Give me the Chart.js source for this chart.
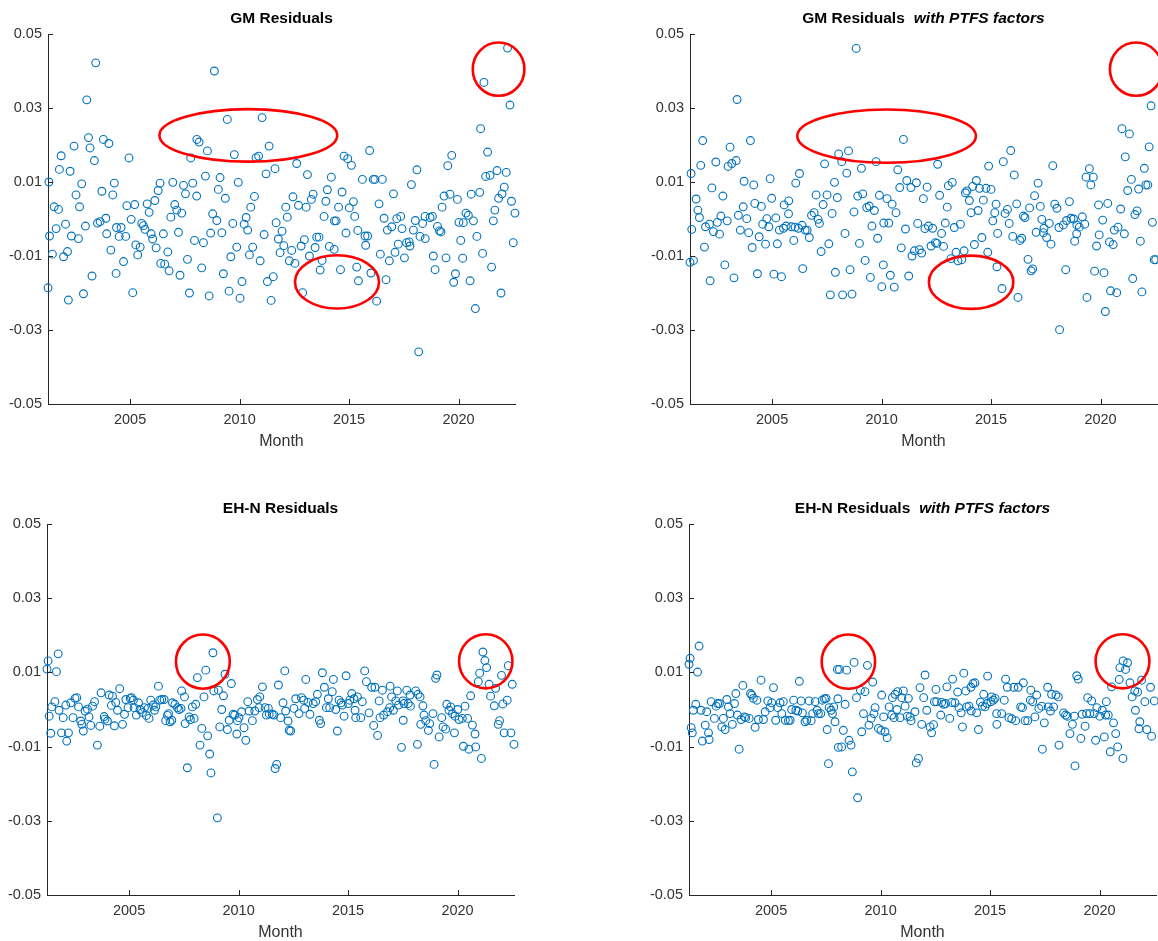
<!DOCTYPE html>
<html>
<head>
<meta charset="utf-8">
<title>Residuals</title>
<script src="https://cdn.jsdelivr.net/npm/chart.js@4.4.1/dist/chart.umd.min.js"></script>
<style>
  html, body { margin: 0; padding: 0; background: #ffffff; }
  #wrap { position: relative; width: 1158px; height: 941px; overflow: hidden; }
  #wrap canvas { position: absolute; left: 0; top: 0; }
</style>
</head>
<body>
<div id="wrap">
  <canvas id="gm" width="1180" height="941"></canvas>
  <canvas id="gmPtfs" width="1180" height="941"></canvas>
  <canvas id="ehn" width="1180" height="941"></canvas>
  <canvas id="ehnPtfs" width="1180" height="941"></canvas>
</div>
<script>
// Monthly sample: April 2001 to August 2022, in decimal years
const firstMonth = 2001.25;
const lastMonth = 2022.58;

const yearTicks = [2005, 2010, 2015, 2020];
const residualTicks = [-0.05, -0.03, -0.01, 0.01, 0.03, 0.05];
const residualMin = -0.05;
const residualMax = 0.05;

// [month, residual]
const gmResiduals = [
  [2001.25,-0.0186],[2001.29,0.0100],[2001.32,-0.0046],[2001.45,-0.0095],[2001.53,0.0033],[2001.62,-0.0026],[2001.73,0.0026],[2001.77,0.0134],[2001.85,0.0171],[2001.96,-0.0102],
  [2002.05,-0.0014],[2002.14,-0.0088],[2002.18,-0.0219],[2002.26,0.0129],[2002.32,-0.0046],[2002.44,0.0197],[2002.53,0.0065],[2002.64,-0.0053],[2002.69,0.0033],[2002.79,0.0095],
  [2002.87,-0.0202],[2002.96,-0.0019],[2003.02,0.0322],[2003.10,0.0220],[2003.17,0.0192],[2003.26,-0.0154],[2003.37,0.0158],[2003.43,0.0422],[2003.51,-0.0011],[2003.63,-0.0007],
  [2003.71,0.0075],[2003.78,0.0215],[2003.89,0.0002],[2003.93,-0.0040],[2004.03,0.0204],[2004.12,-0.0084],[2004.21,0.0065],[2004.28,0.0097],[2004.36,-0.0147],[2004.38,-0.0023],
  [2004.50,-0.0047],[2004.59,-0.0023],[2004.70,-0.0115],[2004.80,-0.0047],[2004.85,0.0036],[2004.95,0.0165],[2005.05,-0.0001],[2005.12,-0.0199],[2005.21,0.0039],[2005.26,-0.0070],
  [2005.35,-0.0097],[2005.46,-0.0076],[2005.53,-0.0012],[2005.61,-0.0018],[2005.68,-0.0028],[2005.78,0.0041],[2005.87,0.0018],[2005.96,-0.0040],[2006.03,-0.0054],[2006.13,0.0050],
  [2006.19,-0.0078],[2006.28,0.0077],[2006.37,0.0097],[2006.40,-0.0120],[2006.52,-0.0040],[2006.58,-0.0122],[2006.72,-0.0089],[2006.78,-0.0140],[2006.86,0.0005],[2006.95,0.0099],
  [2007.04,0.0039],[2007.13,0.0024],[2007.21,-0.0036],[2007.28,-0.0152],[2007.36,0.0016],[2007.44,0.0091],[2007.53,0.0068],[2007.62,-0.0109],[2007.71,-0.0200],[2007.77,0.0165],
  [2007.86,0.0097],[2007.94,-0.0058],[2008.04,0.0062],[2008.05,0.0215],[2008.15,0.0208],
  [2008.27,-0.0132],[2008.35,-0.0064],[2008.44,0.0116],[2008.53,0.0184],[2008.61,-0.0208],[2008.68,-0.0038],[2008.77,0.0014],[2008.85,0.0400],[2008.96,-0.0004],[2009.03,0.0080],
  [2009.11,0.0112],[2009.19,-0.0037],[2009.26,-0.0148],[2009.35,0.0056],[2009.44,0.0269],[2009.52,-0.0195],[2009.60,-0.0102],[2009.69,-0.0012],[2009.76,0.0174],[2009.87,-0.0076],
  [2009.94,0.0099],[2010.02,-0.0214],[2010.11,-0.0169],[2010.21,-0.0014],[2010.30,0.0004],[2010.37,-0.0030],[2010.45,-0.0097],[2010.51,0.0032],[2010.60,-0.0076],[2010.68,0.0061],
  [2010.75,0.0166],[2010.87,0.0170],[2010.94,-0.0113],[2011.03,0.0274],[2011.12,-0.0042],[2011.21,0.0122],[2011.27,-0.0169],[2011.35,0.0197],[2011.44,-0.0220],[2011.54,-0.0156],
  [2011.62,0.0136],[2011.67,-0.0010],[2011.77,-0.0054],[2011.85,-0.0091],[2011.94,-0.0033],[2012.02,-0.0072],[2012.11,0.0032],[2012.18,0.0005],[2012.27,-0.0113],[2012.38,-0.0085],
  [2012.44,0.0060],[2012.53,-0.0120],[2012.61,0.0150],[2012.69,0.0037],[2012.81,-0.0073],[2012.88,-0.0199],[2012.96,-0.0056],[2013.04,0.0032],[2013.10,0.0120],[2013.19,-0.0100],
  [2013.28,0.0053],[2013.36,0.0067],[2013.45,-0.0077],[2013.52,-0.0049],[2013.63,-0.0049],[2013.68,-0.0138],[2013.77,-0.0112],[2013.86,0.0007],[2013.94,0.0048],[2014.01,0.0079],
  [2014.10,-0.0074],[2014.19,0.0113],[2014.32,-0.0082],[2014.33,-0.0005],[2014.41,-0.0005],[2014.52,0.0032],[2014.61,-0.0137],[2014.68,0.0073],[2014.77,0.0170],[2014.86,-0.0038],
  [2014.94,0.0163],[2015.01,0.0030],[2015.11,0.0145],[2015.20,0.0047],[2015.26,0.0007],[2015.35,-0.0130],[2015.40,-0.0031],[2015.43,-0.0167],
  [2015.61,0.0107],[2015.73,-0.0046],[2015.76,-0.0071],[2015.85,-0.0046],[2015.94,0.0185],[2016.00,-0.0146],[2016.11,0.0107],[2016.18,0.0107],[2016.26,-0.0222],[2016.37,0.0041],
  [2016.43,-0.0095],[2016.52,0.0107],[2016.60,0.0002],[2016.69,-0.0164],[2016.75,-0.0030],[2016.84,-0.0113],[2016.95,-0.0021],[2017.03,0.0068],[2017.10,-0.0090],[2017.18,0.0001],
  [2017.25,-0.0068],[2017.36,0.0007],[2017.42,-0.0026],[2017.53,-0.0105],[2017.63,-0.0064],[2017.75,-0.0062],[2017.78,-0.0073],[2017.85,0.0093],[2017.94,-0.0030],[2018.03,-0.0004],
  [2018.10,0.0133],[2018.18,-0.0359],[2018.24,-0.0047],[2018.36,-0.0012],[2018.47,0.0007],[2018.48,-0.0053],[2018.70,0.0004],[2018.81,0.0007],[2018.85,-0.0100],[2018.93,-0.0137],
  [2019.04,-0.0020],[2019.13,-0.0032],[2019.20,-0.0035],[2019.25,0.0032],[2019.34,0.0062],[2019.43,-0.0105],[2019.51,0.0144],[2019.61,0.0067],[2019.69,0.0172],[2019.78,-0.0171],
  [2019.86,-0.0148],[2019.95,0.0053],[2020.02,-0.0009],[2020.10,-0.0058],[2020.19,-0.0106],[2020.22,-0.0010],[2020.34,0.0016],[2020.45,0.0010],[2020.53,-0.0167],[2020.58,0.0067],
  [2020.68,-0.0005],[2020.77,-0.0242],[2020.84,-0.0047],[2020.97,0.0072],[2021.01,0.0244],[2021.10,-0.0093],[2021.16,0.0369],[2021.24,0.0115],[2021.33,0.0181],[2021.44,0.0118],
  [2021.51,-0.0130],[2021.59,-0.0005],[2021.66,0.0024],[2021.76,0.0131],[2021.83,0.0056],[2021.94,-0.0200],[2021.99,0.0068],[2022.09,0.0086],[2022.18,0.0126],[2022.24,0.0462],
  [2022.35,0.0308],[2022.42,0.0048],[2022.50,-0.0064],[2022.58,0.0016]
];

const gmPtfsResiduals = [
  [2001.25,-0.0117],[2001.30,0.0123],[2001.33,-0.0028],[2001.41,-0.0112],[2001.53,0.0054],[2001.61,0.0024],[2001.68,0.0004],[2001.74,0.0145],[2001.83,0.0212],[2001.91,-0.0076],
  [2001.96,-0.0021],[2002.14,-0.0014],[2002.17,-0.0167],[2002.25,0.0084],[2002.32,-0.0034],[2002.43,0.0154],[2002.50,-0.0009],[2002.60,-0.0041],[2002.66,0.0008],[2002.75,0.0062],
  [2002.84,-0.0124],[2002.95,-0.0005],[2002.99,0.0142],[2003.08,0.0194],[2003.16,0.0150],[2003.26,-0.0159],[2003.36,0.0158],[2003.40,0.0323],[2003.46,0.0010],[2003.55,-0.0030],
  [2003.68,0.0033],[2003.72,0.0102],[2003.84,0.0001],[2003.93,-0.0037],[2004.01,0.0212],[2004.09,-0.0077],[2004.16,0.0092],[2004.21,0.0042],[2004.33,-0.0148],[2004.41,-0.0048],
  [2004.51,0.0034],[2004.57,-0.0014],[2004.70,-0.0068],[2004.76,0.0001],[2004.85,-0.0021],[2004.91,0.0109],[2004.98,0.0056],[2005.08,-0.0149],[2005.17,0.0003],[2005.24,-0.0067],
  [2005.33,-0.0030],[2005.43,-0.0156],[2005.52,-0.0025],[2005.55,0.0038],[2005.64,-0.0019],[2005.75,0.0014],[2005.76,0.0049],[2005.88,-0.0021],[2005.99,-0.0058],[2006.05,-0.0022],
  [2006.08,0.0097],[2006.20,-0.0025],[2006.25,0.0123],[2006.37,-0.0017],[2006.40,-0.0134],[2006.51,-0.0030],[2006.60,-0.0030],[2006.70,-0.0050],[2006.80,0.0010],[2006.92,0.0017],
  [2007.01,0.0065],[2007.10,-0.0001],[2007.16,-0.0012],[2007.24,-0.0088],[2007.33,0.0039],[2007.40,0.0149],[2007.51,0.0065],[2007.59,-0.0067],[2007.66,-0.0205],[2007.74,0.0015],
  [2007.85,0.0099],[2007.89,-0.0144],[2007.98,0.0058],[2008.04,0.0176],
  [2008.18,0.0155],[2008.22,-0.0205],[2008.33,-0.0039],[2008.41,0.0124],[2008.49,0.0184],[2008.56,-0.0137],[2008.65,-0.0203],[2008.74,0.0019],[2008.84,0.0461],[2008.91,0.0062],
  [2008.99,-0.0066],[2009.08,0.0137],[2009.14,0.0068],[2009.25,-0.0112],[2009.32,0.0031],[2009.44,0.0035],[2009.49,-0.0158],[2009.56,-0.0019],[2009.67,0.0023],[2009.75,0.0155],
  [2009.82,-0.0052],[2009.90,0.0064],[2010.01,-0.0183],[2010.08,-0.0124],[2010.10,-0.0011],[2010.25,0.0055],[2010.33,-0.0011],[2010.40,-0.0152],[2010.48,0.0040],[2010.58,-0.0184],
  [2010.66,0.0017],[2010.74,0.0133],[2010.83,0.0085],[2010.90,-0.0078],[2011.00,0.0215],[2011.09,-0.0027],[2011.15,0.0104],[2011.24,-0.0154],[2011.34,0.0085],[2011.39,-0.0100],
  [2011.50,-0.0086],[2011.59,0.0098],[2011.65,-0.0012],[2011.73,-0.0083],[2011.83,-0.0092],[2011.91,0.0055],[2011.98,-0.0026],[2012.08,0.0086],[2012.14,-0.0019],[2012.26,-0.0073],
  [2012.33,-0.0025],[2012.46,-0.0064],[2012.53,-0.0066],[2012.56,0.0148],[2012.65,0.0064],[2012.74,-0.0039],[2012.83,-0.0074],[2012.91,-0.0011],[2013.00,0.0032],[2013.05,0.0090],
  [2013.17,-0.0107],[2013.23,0.0099],[2013.32,-0.0023],[2013.40,-0.0090],[2013.49,-0.0113],[2013.60,-0.0014],[2013.66,-0.0110],[2013.77,-0.0086],[2013.83,0.0071],[2013.90,0.0076],
  [2014.01,0.0050],[2014.09,0.0017],[2014.16,0.0088],[2014.24,-0.0069],[2014.33,0.0104],[2014.41,0.0023],[2014.47,0.0083],[2014.58,-0.0050],[2014.65,0.0051],[2014.77,0.0083],
  [2014.85,-0.0090],[2014.89,0.0143],[2015.00,0.0080],[2015.08,-0.0005],[2015.17,0.0017],[2015.23,0.0040],[2015.27,-0.0129],[2015.30,-0.0039],
  [2015.50,-0.0188],[2015.56,0.0155],[2015.64,0.0015],[2015.75,0.0026],[2015.83,-0.0012],[2015.90,0.0185],[2015.99,-0.0047],[2016.06,0.0119],[2016.17,0.0041],[2016.23,-0.0212],
  [2016.32,-0.0058],[2016.40,-0.0052],[2016.48,0.0008],[2016.55,0.0004],[2016.69,-0.0109],[2016.76,0.0030],[2016.83,-0.0140],[2016.90,-0.0135],[2016.99,0.0063],[2017.06,-0.0036],
  [2017.15,0.0097],[2017.25,0.0034],[2017.32,-0.0001],[2017.39,-0.0037],[2017.42,-0.0025],[2017.54,-0.0050],[2017.66,-0.0012],[2017.74,-0.0068],[2017.82,0.0144],[2017.91,0.0040],
  [2018.01,0.0029],[2018.10,-0.0023],[2018.13,-0.0299],[2018.30,-0.0016],[2018.41,-0.0137],[2018.45,-0.0004],[2018.58,0.0047],[2018.65,0.0002],[2018.77,0.0000],[2018.82,-0.0060],
  [2018.91,-0.0040],[2018.92,-0.0016],[2019.03,-0.0022],[2019.17,0.0006],[2019.28,-0.0014],[2019.34,0.0113],[2019.38,-0.0212],[2019.49,0.0136],[2019.56,0.0092],[2019.67,0.0113],
  [2019.73,-0.0141],[2019.82,-0.0073],[2019.91,0.0038],[2019.94,-0.0043],[2020.10,-0.0003],[2020.16,-0.0145],[2020.22,-0.0250],[2020.33,0.0042],[2020.41,-0.0062],[2020.46,-0.0194],
  [2020.58,-0.0069],[2020.63,-0.0030],[2020.74,-0.0199],[2020.80,-0.0022],[2020.92,0.0027],[2020.98,0.0244],[2021.09,-0.0040],[2021.13,0.0168],[2021.24,0.0077],[2021.32,0.0230],
  [2021.41,0.0107],[2021.47,-0.0161],[2021.57,0.0012],[2021.67,0.0022],[2021.74,0.0081],[2021.82,-0.0060],[2021.89,-0.0197],[2022.00,0.0137],[2022.07,0.0092],[2022.16,0.0092],
  [2022.22,0.0195],[2022.31,0.0306],[2022.37,-0.0009],[2022.45,-0.0110],[2022.52,-0.0110]
];

const ehnResiduals = [
  [2001.25,0.0109],[2001.30,0.0131],[2001.35,-0.0018],[2001.42,-0.0064],[2001.47,0.0007],[2001.61,0.0021],[2001.68,0.0102],[2001.76,0.0150],[2001.80,-0.0002],[2001.91,-0.0063],
  [2001.99,-0.0022],[2002.11,0.0012],[2002.15,-0.0085],[2002.23,-0.0063],[2002.34,0.0018],[2002.44,-0.0022],[2002.53,0.0030],[2002.61,0.0032],[2002.69,0.0007],[2002.79,-0.0031],
  [2002.84,-0.0040],[2002.91,-0.0058],[2002.99,-0.0004],[2003.10,0.0001],[2003.17,-0.0020],[2003.25,-0.0043],[2003.33,0.0009],[2003.42,0.0021],[2003.55,-0.0096],[2003.66,-0.0045],
  [2003.72,0.0045],[2003.86,-0.0019],[2003.90,-0.0026],[2004.01,-0.0031],[2004.09,0.0039],[2004.19,0.0011],[2004.24,0.0036],[2004.33,-0.0044],[2004.39,0.0019],[2004.47,-0.0002],
  [2004.57,0.0056],[2004.70,-0.0040],[2004.79,-0.0013],[2004.85,0.0027],[2004.95,0.0005],[2005.05,0.0030],[2005.11,0.0032],[2005.20,0.0025],[2005.23,0.0005],[2005.33,-0.0015],
  [2005.43,0.0018],[2005.50,0.0000],[2005.61,-0.0008],[2005.70,0.0005],[2005.79,-0.0016],[2005.87,0.0003],[2005.91,-0.0024],[2005.99,0.0025],[2006.10,0.0012],[2006.16,-0.0002],
  [2006.22,0.0007],[2006.34,0.0063],[2006.40,0.0025],[2006.49,0.0027],[2006.60,0.0027],[2006.67,-0.0030],[2006.75,-0.0016],[2006.80,-0.0011],[2006.87,-0.0033],[2006.95,-0.0029],
  [2006.98,0.0018],[2007.09,0.0014],[2007.21,0.0005],[2007.28,0.0000],[2007.37,0.0003],[2007.40,0.0050],[2007.53,0.0034],[2007.56,-0.0038],[2007.66,-0.0157],[2007.74,-0.0020],
  [2007.80,-0.0027],[2007.89,0.0007],[2007.97,-0.0024],[2008.04,0.0014],[2008.12,0.0086],
  [2008.24,-0.0096],[2008.32,-0.0051],[2008.42,0.0034],[2008.50,0.0106],[2008.59,-0.0071],[2008.68,-0.0120],[2008.74,-0.0171],[2008.83,0.0153],[2008.87,0.0050],[2009.03,-0.0292],
  [2009.08,0.0052],[2009.14,-0.0047],[2009.23,0.0000],[2009.31,0.0037],[2009.38,0.0095],[2009.49,-0.0054],[2009.57,-0.0029],[2009.67,0.0070],[2009.75,-0.0013],[2009.82,-0.0015],
  [2009.92,-0.0066],[2009.95,-0.0030],[2010.02,-0.0022],[2010.14,-0.0006],[2010.25,-0.0049],[2010.33,-0.0083],[2010.42,0.0021],[2010.48,-0.0004],[2010.63,-0.0030],[2010.74,-0.0004],
  [2010.86,0.0027],[2010.94,0.0005],[2010.97,0.0034],[2011.09,0.0061],[2011.21,0.0005],[2011.27,-0.0015],[2011.36,0.0003],[2011.40,-0.0012],[2011.54,-0.0013],[2011.62,-0.0015],
  [2011.67,-0.0159],[2011.74,-0.0148],[2011.82,0.0066],[2011.92,-0.0022],[2012.03,0.0018],[2012.11,0.0104],[2012.15,-0.0004],[2012.26,-0.0031],[2012.31,-0.0056],[2012.38,-0.0058],
  [2012.53,0.0003],[2012.61,0.0029],[2012.76,-0.0011],[2012.87,0.0032],[2012.98,0.0025],[2013.02,0.0003],[2013.07,0.0081],[2013.17,0.0019],[2013.26,-0.0013],[2013.41,0.0016],
  [2013.52,0.0021],[2013.60,0.0041],[2013.69,-0.0029],[2013.75,-0.0038],[2013.83,0.0099],[2013.92,0.0060],[2014.01,0.0005],[2014.10,0.0029],[2014.16,0.0005],[2014.28,0.0048],
  [2014.33,0.0081],[2014.44,0.0000],[2014.51,-0.0058],[2014.59,0.0025],[2014.68,0.0018],[2014.74,0.0012],[2014.82,-0.0018],[2014.91,0.0091],[2015.01,0.0016],[2015.08,0.0025],
  [2015.17,0.0043],[2015.27,0.0029],[2015.32,-0.0002],[2015.35,-0.0022],[2015.43,0.0034],
  [2015.58,-0.0022],[2015.65,0.0021],[2015.76,0.0104],[2015.84,0.0075],[2015.96,-0.0009],[2016.08,0.0060],[2016.17,-0.0043],[2016.23,0.0060],[2016.35,-0.0070],[2016.42,0.0023],
  [2016.46,-0.0022],[2016.57,0.0052],[2016.63,-0.0015],[2016.80,-0.0006],[2016.90,0.0005],[2016.92,0.0063],[2016.99,0.0034],[2017.07,-0.0002],[2017.18,0.0023],[2017.25,0.0050],
  [2017.30,0.0012],[2017.44,-0.0102],[2017.51,0.0023],[2017.52,-0.0029],[2017.56,0.0016],[2017.68,0.0052],[2017.75,0.0016],[2017.83,0.0039],[2017.85,0.0009],[2018.09,0.0050],
  [2018.17,-0.0094],[2018.20,0.0041],[2018.29,0.0034],[2018.32,-0.0040],[2018.42,0.0010],[2018.47,-0.0015],[2018.55,-0.0030],[2018.67,-0.0056],[2018.73,-0.0038],[2018.88,-0.0011],
  [2018.93,-0.0148],[2019.00,0.0084],[2019.06,0.0093],[2019.16,-0.0074],[2019.28,-0.0022],[2019.34,-0.0047],[2019.46,-0.0053],[2019.51,0.0014],[2019.61,-0.0002],[2019.69,0.0007],
  [2019.77,-0.0011],[2019.86,-0.0063],[2019.89,-0.0018],[2020.01,0.0000],[2020.07,-0.0027],[2020.22,-0.0024],[2020.27,-0.0099],[2020.34,0.0009],[2020.46,-0.0024],[2020.52,-0.0107],
  [2020.60,0.0037],[2020.68,-0.0042],[2020.80,-0.0066],[2020.83,-0.0101],[2020.95,0.0075],[2021.01,0.0098],[2021.09,-0.0132],[2021.16,0.0155],[2021.25,0.0132],[2021.33,0.0113],
  [2021.44,0.0068],[2021.51,0.0036],[2021.68,0.0010],[2021.74,0.0057],[2021.86,-0.0040],[2021.92,-0.0030],[2022.01,0.0092],[2022.07,0.0015],[2022.13,-0.0063],[2022.27,0.0025],
  [2022.32,0.0118],[2022.44,-0.0063],[2022.50,0.0068],[2022.58,-0.0094]
];

const ehnPtfsResiduals = [
  [2001.25,0.0122],[2001.30,0.0138],[2001.35,-0.0049],[2001.40,-0.0063],[2001.45,-0.0002],[2001.56,0.0014],[2001.64,0.0101],[2001.71,0.0171],[2001.80,-0.0002],[2001.86,-0.0085],
  [2001.99,-0.0042],[2002.06,-0.0006],[2002.14,-0.0063],[2002.17,-0.0081],[2002.26,0.0021],[2002.41,-0.0024],[2002.49,0.0009],[2002.56,0.0016],[2002.64,0.0016],[2002.75,-0.0047],
  [2002.82,-0.0024],[2002.90,-0.0054],[2002.98,0.0027],[2003.05,0.0007],[2003.13,-0.0011],[2003.23,-0.0040],[2003.33,0.0016],[2003.39,0.0043],[2003.46,-0.0015],[2003.54,-0.0107],
  [2003.63,-0.0027],[2003.71,0.0065],[2003.78,-0.0020],[2003.84,-0.0022],[2004.00,-0.0024],[2004.06,0.0043],[2004.12,0.0039],[2004.19,0.0030],[2004.27,-0.0048],[2004.35,0.0025],
  [2004.42,-0.0027],[2004.54,0.0079],[2004.65,-0.0027],[2004.73,-0.0006],[2004.85,0.0023],[2004.95,0.0005],[2005.03,0.0018],[2005.11,0.0059],[2005.21,-0.0029],[2005.30,0.0005],
  [2005.41,0.0018],[2005.49,-0.0011],[2005.56,0.0021],[2005.65,-0.0029],[2005.79,-0.0030],[2005.87,-0.0029],[2005.94,0.0000],[2006.03,0.0025],[2006.13,-0.0002],[2006.22,-0.0004],
  [2006.29,0.0076],[2006.37,0.0023],[2006.43,-0.0009],[2006.55,-0.0033],[2006.63,-0.0029],[2006.74,0.0023],[2006.83,-0.0030],[2006.90,-0.0011],[2007.01,0.0021],[2007.10,-0.0002],
  [2007.16,-0.0011],[2007.27,-0.0011],[2007.34,0.0025],[2007.44,0.0029],[2007.51,0.0030],[2007.56,-0.0054],[2007.62,-0.0146],[2007.65,0.0005],[2007.74,-0.0002],[2007.80,-0.0011],
  [2007.86,0.0007],[2007.92,-0.0033],[2008.03,0.0108],[2008.05,0.0029],[2008.07,-0.0102],
  [2008.12,0.0108],[2008.22,-0.0101],[2008.30,-0.0056],[2008.38,0.0014],[2008.45,0.0106],[2008.56,-0.0083],[2008.65,-0.0096],[2008.71,-0.0168],[2008.79,0.0127],[2008.90,0.0032],
  [2008.95,-0.0238],[2009.08,0.0052],[2009.14,-0.0060],[2009.22,-0.0011],[2009.29,0.0048],[2009.40,0.0119],[2009.47,-0.0042],[2009.57,-0.0024],[2009.64,0.0074],[2009.70,-0.0011],
  [2009.75,0.0005],[2009.90,-0.0051],[2010.02,-0.0056],[2010.05,0.0039],[2010.14,-0.0020],[2010.20,-0.0060],[2010.30,-0.0076],[2010.39,0.0007],[2010.51,-0.0015],[2010.54,0.0032],
  [2010.62,-0.0022],[2010.66,0.0041],[2010.75,0.0000],[2010.78,0.0048],[2010.89,-0.0022],[2010.97,0.0032],[2011.04,0.0050],[2011.12,0.0009],[2011.22,-0.0018],[2011.27,0.0030],
  [2011.35,-0.0020],[2011.39,-0.0030],[2011.57,-0.0006],[2011.63,-0.0144],[2011.73,-0.0132],[2011.80,0.0059],[2011.88,-0.0040],[2011.97,0.0032],[2012.03,0.0093],[2012.11,-0.0002],
  [2012.26,-0.0047],[2012.33,-0.0063],[2012.42,-0.0041],[2012.46,0.0021],[2012.53,0.0054],[2012.56,0.0021],[2012.75,-0.0015],[2012.79,0.0019],[2012.88,0.0014],[2012.97,0.0016],
  [2013.03,0.0061],[2013.16,-0.0024],[2013.25,0.0019],[2013.29,0.0082],[2013.40,0.0018],[2013.52,0.0047],[2013.58,0.0005],[2013.68,-0.0009],[2013.74,-0.0047],[2013.80,0.0098],
  [2013.89,0.0050],[2013.93,0.0007],[2014.04,0.0009],[2014.13,0.0060],[2014.14,-0.0004],[2014.22,0.0070],[2014.31,0.0072],[2014.39,-0.0009],[2014.47,-0.0054],[2014.56,0.0020],
  [2014.65,0.0009],[2014.71,0.0041],[2014.77,0.0007],[2014.86,0.0016],[2014.89,0.0090],[2015.04,0.0021],[2015.07,0.0034],[2015.15,0.0025],[2015.23,0.0030],[2015.30,-0.0011],
  [2015.31,-0.0040],
  [2015.53,-0.0011],[2015.65,0.0025],[2015.71,0.0082],[2015.79,0.0060],[2015.86,-0.0022],[2015.99,-0.0025],[2016.09,0.0060],[2016.17,-0.0030],[2016.29,0.0060],[2016.40,0.0007],
  [2016.48,0.0005],[2016.52,0.0072],[2016.60,-0.0030],[2016.72,-0.0030],[2016.84,0.0025],[2016.86,0.0052],[2016.95,0.0021],[2017.05,-0.0020],[2017.13,0.0039],[2017.23,0.0003],
  [2017.36,0.0009],[2017.39,-0.0107],[2017.48,-0.0036],[2017.63,0.0060],[2017.66,0.0007],[2017.76,-0.0004],[2017.81,0.0041],[2017.90,0.0007],[2018.01,0.0039],[2018.12,0.0034],
  [2018.15,-0.0096],[2018.36,-0.0009],[2018.45,-0.0015],[2018.53,-0.0018],[2018.65,-0.0065],[2018.76,-0.0040],[2018.85,-0.0018],[2018.88,-0.0152],[2018.96,0.0091],[2019.03,0.0082],
  [2019.15,-0.0078],[2019.21,-0.0013],[2019.34,-0.0045],[2019.41,-0.0011],[2019.46,0.0032],[2019.56,-0.0011],[2019.64,0.0023],[2019.76,-0.0011],[2019.82,-0.0083],[2019.88,0.0005],
  [2020.01,-0.0018],[2020.13,-0.0002],[2020.22,-0.0074],[2020.28,-0.0015],[2020.31,0.0021],[2020.40,-0.0015],[2020.49,-0.0114],[2020.55,0.0061],[2020.64,-0.0036],[2020.74,-0.0065],
  [2020.83,-0.0101],[2020.90,0.0081],[2020.93,0.0113],[2021.07,-0.0132],[2021.08,0.0131],[2021.19,0.0108],[2021.28,0.0126],[2021.39,0.0072],[2021.49,0.0034],[2021.61,0.0050],
  [2021.64,-0.0002],[2021.74,0.0047],[2021.80,-0.0052],[2021.84,-0.0033],[2021.92,0.0079],[2022.07,0.0021],[2022.16,-0.0054],[2022.33,0.0060],[2022.38,-0.0072],[2022.50,0.0023]
];

// Highlighted episodes: centre (month, residual) and half-extents in the same units
const gmHighlights = [
  { x: 2010.40, y: 0.0226, rx: 4.06, ry: 0.0071 },
  { x: 2014.45, y: -0.0170, rx: 1.92, ry: 0.0072 },
  { x: 2021.83, y: 0.0405, rx: 1.18, ry: 0.0072 }
];
const gmPtfsHighlights = [
  { x: 2010.23, y: 0.0224, rx: 4.08, ry: 0.0072 },
  { x: 2014.09, y: -0.0171, rx: 1.93, ry: 0.0072 },
  { x: 2021.63, y: 0.0405, rx: 1.20, ry: 0.0072 }
];
const ehnHighlights = [
  { x: 2008.37, y: 0.0129, rx: 1.23, ry: 0.0073 },
  { x: 2021.29, y: 0.0130, rx: 1.22, ry: 0.0073 }
];
const ehnPtfsHighlights = [
  { x: 2008.53, y: 0.0129, rx: 1.22, ry: 0.0073 },
  { x: 2021.05, y: 0.0130, rx: 1.23, ry: 0.0073 }
];

const FONT = '"Liberation Sans", Arial, Helvetica, sans-serif';
const INK = '#262626';
const LABEL_INK = '#333333';
const MARKER = '#0072BD';
const PAGE_W = 1180, PAGE_H = 941;
const Y_AXIS_W = 48;
const X_AXIS_H = 47;

Chart.defaults.font.family = FONT;
Chart.defaults.color = LABEL_INK;

// Axes ticks drawn inward, highlight ellipses and the two-style panel title
const panelDecor = {
  id: 'panelDecor',
  afterDatasetsDraw(chart, args, opts) {
    const { ctx, chartArea: a, scales: { x, y } } = chart;
    ctx.save();
    ctx.strokeStyle = INK;
    ctx.lineWidth = 1;
    ctx.beginPath();
    x.ticks.forEach(t => {
      const px = Math.round(x.getPixelForValue(t.value)) + 0.5;
      ctx.moveTo(px, a.bottom);
      ctx.lineTo(px, a.bottom - 5);
    });
    y.ticks.forEach(t => {
      const py = Math.round(y.getPixelForValue(t.value)) + 0.5;
      ctx.moveTo(a.left, py);
      ctx.lineTo(a.left + 5, py);
    });
    ctx.stroke();

    ctx.strokeStyle = '#ff0000';
    ctx.lineWidth = 2.6;
    (opts.marks || []).forEach(m => {
      const cx = x.getPixelForValue(m.x);
      const cy = y.getPixelForValue(m.y);
      const rx = Math.abs(x.getPixelForValue(m.x + m.rx) - cx);
      const ry = Math.abs(y.getPixelForValue(m.y + m.ry) - cy);
      ctx.beginPath();
      ctx.ellipse(cx, cy, rx, ry, 0, 0, Math.PI * 2);
      ctx.stroke();
    });

    const boldFont = '700 15.5px ' + FONT;
    const italicFont = 'italic 700 15.5px ' + FONT;
    ctx.fillStyle = '#000000';
    ctx.textBaseline = 'middle';
    ctx.textAlign = 'left';
    ctx.font = boldFont;
    const w1 = ctx.measureText(opts.title).width;
    let w2 = 0, gap = 0;
    if (opts.subtitle) {
      ctx.font = italicFont;
      w2 = ctx.measureText(opts.subtitle).width;
      gap = 9;
    }
    const cxTitle = (a.left + a.right) / 2;
    const tx = cxTitle - (w1 + gap + w2) / 2;
    const ty = a.top - 15;
    ctx.font = boldFont;
    ctx.fillText(opts.title, tx, ty);
    if (opts.subtitle) {
      ctx.font = italicFont;
      ctx.fillText(opts.subtitle, tx + w1 + gap, ty);
    }
    ctx.restore();
  }
};

function makePanel(canvasId, points, highlights, title, subtitle, area) {
  const data = points.map(p => ({ x: p[0], y: p[1] }));
  return new Chart(document.getElementById(canvasId), {
    type: 'scatter',
    data: {
      datasets: [{
        data: data,
        showLine: false,
        clip: false,
        pointStyle: 'circle',
        pointRadius: 3.9,
        pointHoverRadius: 3.9,
        pointBorderWidth: 1.1,
        pointBorderColor: MARKER,
        pointBackgroundColor: 'rgba(0,0,0,0)'
      }]
    },
    options: {
      responsive: false,
      animation: false,
      devicePixelRatio: 1,
      events: [],
      layout: {
        padding: {
          left: area.left - Y_AXIS_W,
          top: area.top,
          right: PAGE_W - area.right,
          bottom: PAGE_H - area.bottom - X_AXIS_H
        }
      },
      plugins: {
        legend: { display: false },
        tooltip: { enabled: false },
        panelDecor: { marks: highlights, title: title, subtitle: subtitle }
      },
      scales: {
        x: {
          type: 'linear',
          min: firstMonth,
          max: lastMonth,
          grid: { display: false, drawTicks: false },
          border: { display: true, color: INK, width: 1 },
          afterBuildTicks: s => { s.ticks = yearTicks.map(v => ({ value: v })); },
          afterFit: s => { s.height = X_AXIS_H; },
          ticks: {
            padding: 7,
            color: LABEL_INK,
            font: { size: 14.5 },
            maxRotation: 0,
            autoSkip: false,
            callback: v => String(v)
          },
          title: {
            display: true,
            text: 'Month',
            color: LABEL_INK,
            font: { size: 16 },
            padding: { top: 0, bottom: 0 }
          }
        },
        y: {
          type: 'linear',
          min: residualMin,
          max: residualMax,
          grid: { display: false, drawTicks: false },
          border: { display: true, color: INK, width: 1 },
          afterBuildTicks: s => { s.ticks = residualTicks.map(v => ({ value: v })); },
          afterFit: s => { s.width = Y_AXIS_W; },
          ticks: {
            padding: 6,
            color: LABEL_INK,
            font: { size: 14.5 },
            autoSkip: false,
            callback: v => v.toFixed(2)
          }
        }
      }
    },
    plugins: [panelDecor]
  });
}

makePanel('gm', gmResiduals, gmHighlights, 'GM Residuals', '',
  { left: 48, top: 34, right: 515, bottom: 404 });
makePanel('gmPtfs', gmPtfsResiduals, gmPtfsHighlights, 'GM Residuals', 'with PTFS factors',
  { left: 690, top: 34, right: 1157, bottom: 404 });
makePanel('ehn', ehnResiduals, ehnHighlights, 'EH-N Residuals', '',
  { left: 47, top: 524, right: 514, bottom: 895 });
makePanel('ehnPtfs', ehnPtfsResiduals, ehnPtfsHighlights, 'EH-N Residuals', 'with PTFS factors',
  { left: 689, top: 524, right: 1156, bottom: 895 });
</script>
</body>
</html>
